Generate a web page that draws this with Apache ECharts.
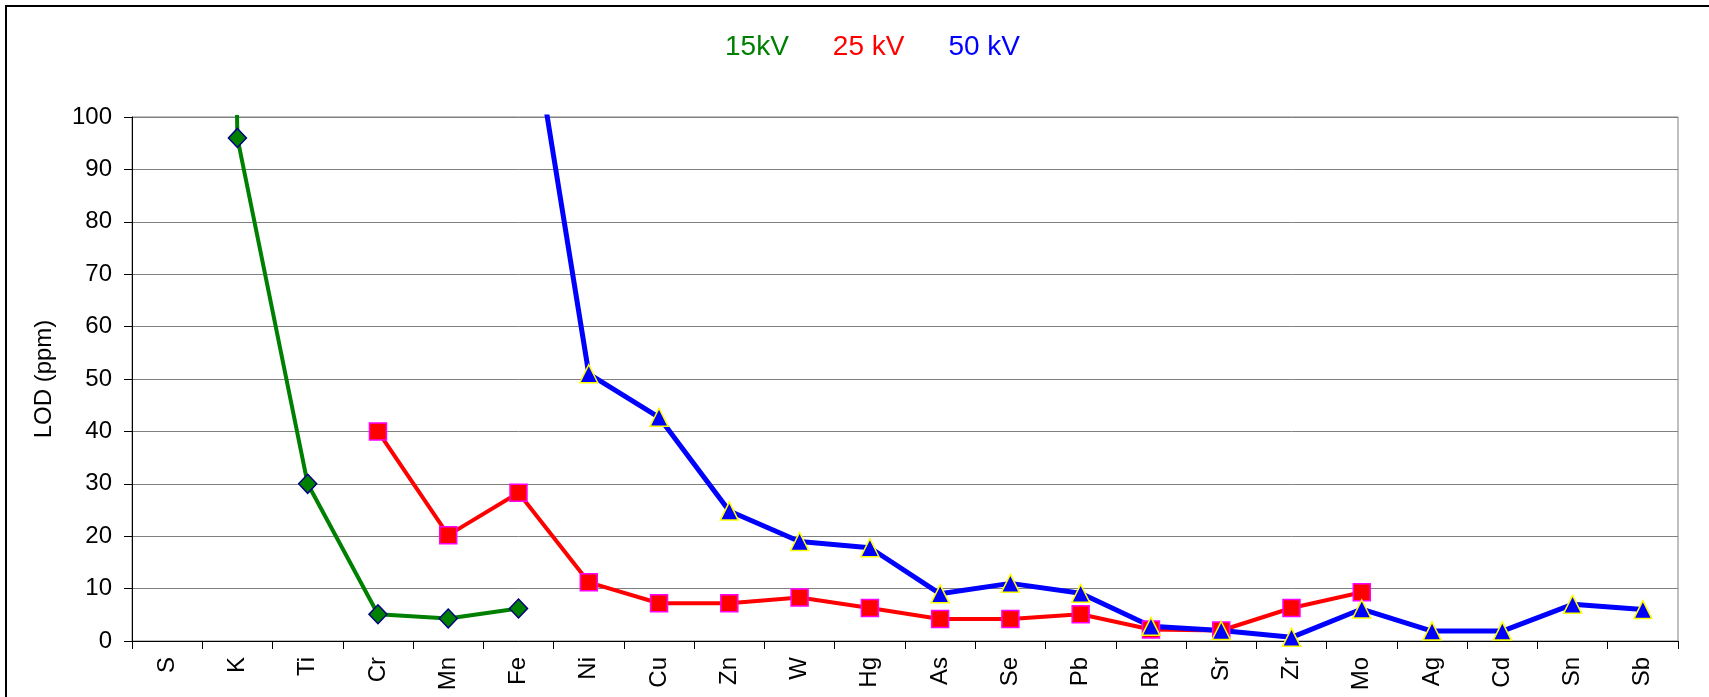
<!DOCTYPE html>
<html>
<head>
<meta charset="utf-8">
<script src="https://cdn.jsdelivr.net/npm/echarts@6/dist/echarts.min.js"></script>
<style>
  html, body { margin: 0; padding: 0; background: #fff; }
  #main { width: 1709px; height: 697px; }
</style>
</head>
<body>
<div id="main"></div>
<script>
// elements along the x axis
const elements = ['S', 'K', 'Ti', 'Cr', 'Mn', 'Fe', 'Ni', 'Cu', 'Zn', 'W', 'Hg', 'As',
    'Se', 'Pb', 'Rb', 'Sr', 'Zr', 'Mo', 'Ag', 'Cd', 'Sn', 'Sb'];

// LOD values (ppm); S at 15kV and Fe at 50kV are far off scale
const lod15kV = [900, 96, 30, 5.1, 4.3, 6.2, null, null, null, null, null, null,
    null, null, null, null, null, null, null, null, null, null];
const lod25kV = [null, null, null, 40, 20.2, 28.3, 11.2, 7.2, 7.2, 8.3, 6.3, 4.2,
    4.2, 5.1, 2.2, 2, 6.3, 9.3, null, null, null, null];
const lod50kV = [null, null, null, null, null, 134, 51, 42.7, 24.8, 19, 17.8, 9,
    11, 9.1, 2.8, 2, 0.7, 6.1, 1.9, 1.9, 7, 6];

const yTicks = { min: 0, max: 100, interval: 10 };
const seriesNames = ['15kV', '25 kV', '50 kV'];

const chart = echarts.init(document.getElementById('main'));
const font = "'Liberation Sans', Arial, sans-serif";

chart.setOption({
    animation: false,
    backgroundColor: '#fff',
    graphic: [{
        type: 'rect',
        shape: { x: 6, y: 6, width: 1800, height: 800 },
        style: { fill: 'none', stroke: '#000', lineWidth: 2 },
        silent: true
    }],
    legend: {
        left: 714,
        top: 28,
        icon: 'rect',
        itemWidth: 0,
        itemHeight: 0,
        itemGap: 38,
        selectedMode: false,
        textStyle: { fontFamily: font, fontSize: 28 },
        data: [
            { name: seriesNames[0], textStyle: { color: '#008000' } },
            { name: seriesNames[1], textStyle: { color: '#ff0000' } },
            { name: seriesNames[2], textStyle: { color: '#0000ff' } }
        ]
    },
    grid: {
        left: 132, right: 31, top: 117, bottom: 56,
        containLabel: false,
        outerBoundsMode: 'none',
        show: true,
        borderColor: '#808080',
        borderWidth: 1
    },
    xAxis: {
        type: 'category',
        data: elements,
        boundaryGap: true,
        axisLine: { lineStyle: { color: '#000', width: 1 } },
        axisTick: { show: true, length: 8, lineStyle: { color: '#000' } },
        axisLabel: {
            interval: 0, rotate: 90, margin: 16,
            color: '#000', fontFamily: font, fontSize: 24
        },
        splitLine: { show: false }
    },
    yAxis: {
        type: 'value',
        min: yTicks.min,
        max: yTicks.max,
        interval: yTicks.interval,
        name: 'LOD (ppm)',
        nameLocation: 'middle',
        nameGap: 76,
        nameRotate: 90,
        nameTextStyle: { color: '#000', fontFamily: font, fontSize: 24 },
        axisLine: { show: true, lineStyle: { color: '#000', width: 1 } },
        axisTick: { show: true, length: 8, lineStyle: { color: '#000' } },
        axisLabel: { color: '#000', fontFamily: font, fontSize: 24, margin: 20 },
        splitLine: { lineStyle: { color: '#808080', width: 1 } }
    },
    series: [
        {
            name: seriesNames[0],
            type: 'line',
            data: lod15kV,
            clip: true,
            symbol: 'diamond',
            symbolSize: [18, 19],
            lineStyle: { color: '#008000', width: 4 },
            itemStyle: { color: '#008000', borderColor: '#000080', borderWidth: 1.5 }
        },
        {
            name: seriesNames[1],
            type: 'line',
            data: lod25kV,
            clip: true,
            symbol: 'rect',
            symbolSize: 17,
            lineStyle: { color: '#ff0000', width: 4 },
            itemStyle: { color: '#ff0000', borderColor: '#ff00ff', borderWidth: 1.5 }
        },
        {
            name: seriesNames[2],
            type: 'line',
            data: lod50kV,
            clip: true,
            symbol: 'triangle',
            symbolSize: 18,
            lineStyle: { color: '#0000ff', width: 5 },
            itemStyle: { color: '#0000ff', borderColor: '#ffff00', borderWidth: 1.5 }
        }
    ]
});

window.addEventListener('resize', () => chart.resize());
</script>
</body>
</html>
